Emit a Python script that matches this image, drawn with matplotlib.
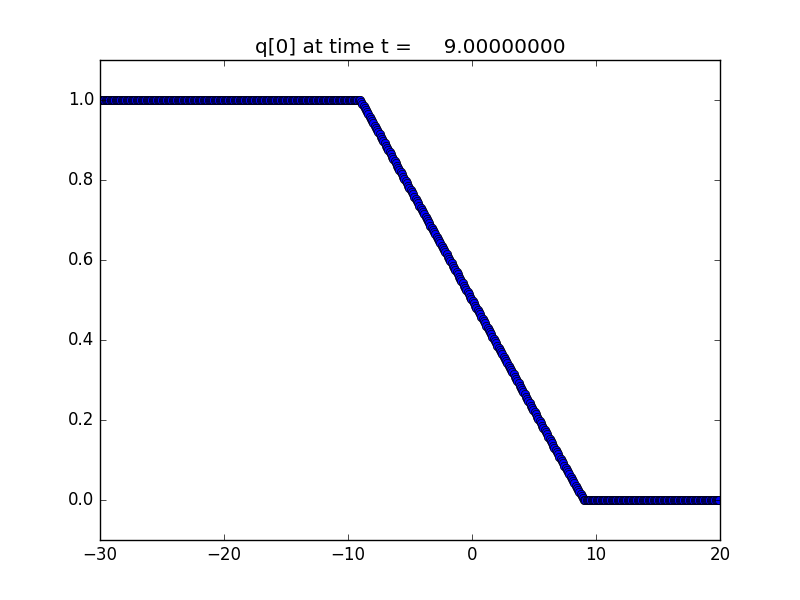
"""Cell values of q[0] at t = 9, drawn in the classic matplotlib look."""

import matplotlib

matplotlib.use("Agg")
import matplotlib.pyplot as plt
import numpy as np

# Grid: 500 cells of width 0.1 on [-30, 20], values taken at the cell centres.
X_LOWER = -30.0
X_UPPER = 20.0
NUM_CELLS = 500

# Left state (x < -9), a corner cell slightly rounded by diffusion.
left_state = [1.0] * 209 + [0.999]

# Rarefaction fan, -9 < x < 9.
fan_values = [
    0.995, 0.991, 0.986, 0.981, 0.975, 0.969, 0.964, 0.958, 0.953,
    0.947, 0.942, 0.936, 0.931, 0.925, 0.919, 0.914, 0.908, 0.903,
    0.897, 0.892, 0.886, 0.881, 0.875, 0.869, 0.864, 0.858, 0.853,
    0.847, 0.842, 0.836, 0.831, 0.825, 0.819, 0.814, 0.808, 0.803,
    0.797, 0.792, 0.786, 0.781, 0.775, 0.769, 0.764, 0.758, 0.753,
    0.747, 0.742, 0.736, 0.731, 0.725, 0.719, 0.714, 0.708, 0.703,
    0.697, 0.692, 0.686, 0.681, 0.675, 0.669, 0.664, 0.658, 0.653,
    0.647, 0.642, 0.636, 0.631, 0.625, 0.619, 0.614, 0.608, 0.603,
    0.597, 0.592, 0.586, 0.581, 0.575, 0.569, 0.564, 0.558, 0.553,
    0.547, 0.542, 0.536, 0.531, 0.525, 0.519, 0.514, 0.508, 0.503,
    0.497, 0.492, 0.486, 0.481, 0.475, 0.469, 0.464, 0.458, 0.453,
    0.447, 0.442, 0.436, 0.431, 0.425, 0.419, 0.414, 0.408, 0.403,
    0.397, 0.392, 0.386, 0.381, 0.375, 0.369, 0.364, 0.358, 0.353,
    0.347, 0.342, 0.336, 0.331, 0.325, 0.319, 0.314, 0.308, 0.303,
    0.297, 0.292, 0.286, 0.281, 0.275, 0.269, 0.264, 0.258, 0.253,
    0.247, 0.242, 0.236, 0.231, 0.225, 0.219, 0.214, 0.208, 0.203,
    0.197, 0.192, 0.186, 0.181, 0.175, 0.169, 0.164, 0.158, 0.153,
    0.147, 0.142, 0.136, 0.131, 0.125, 0.119, 0.114, 0.108, 0.103,
    0.097, 0.092, 0.086, 0.081, 0.075, 0.069, 0.064, 0.058, 0.053,
    0.047, 0.042, 0.036, 0.031, 0.025, 0.019, 0.014, 0.009, 0.005,
]

# Right state (x > 9).
right_state = [0.001] + [0.0] * 109

TITLE = "q[0] at time t =     9.00000000"

plt.style.use("classic")

dx = (X_UPPER - X_LOWER) / NUM_CELLS
x_centres = X_LOWER + dx * (np.arange(NUM_CELLS) + 0.5)
q = np.array(left_state + fan_values + right_state)

fig = plt.figure(figsize=(8, 6), dpi=100, facecolor="white")
ax = fig.add_subplot(111)
ax.plot(x_centres, q, "bo", markeredgecolor="k", markersize=6)

ax.set_xlim(X_LOWER, X_UPPER)
ax.set_ylim(-0.1, 1.1)
ax.set_title(TITLE)

fig.savefig("out.png", dpi=100, facecolor="white")
plt.close(fig)
